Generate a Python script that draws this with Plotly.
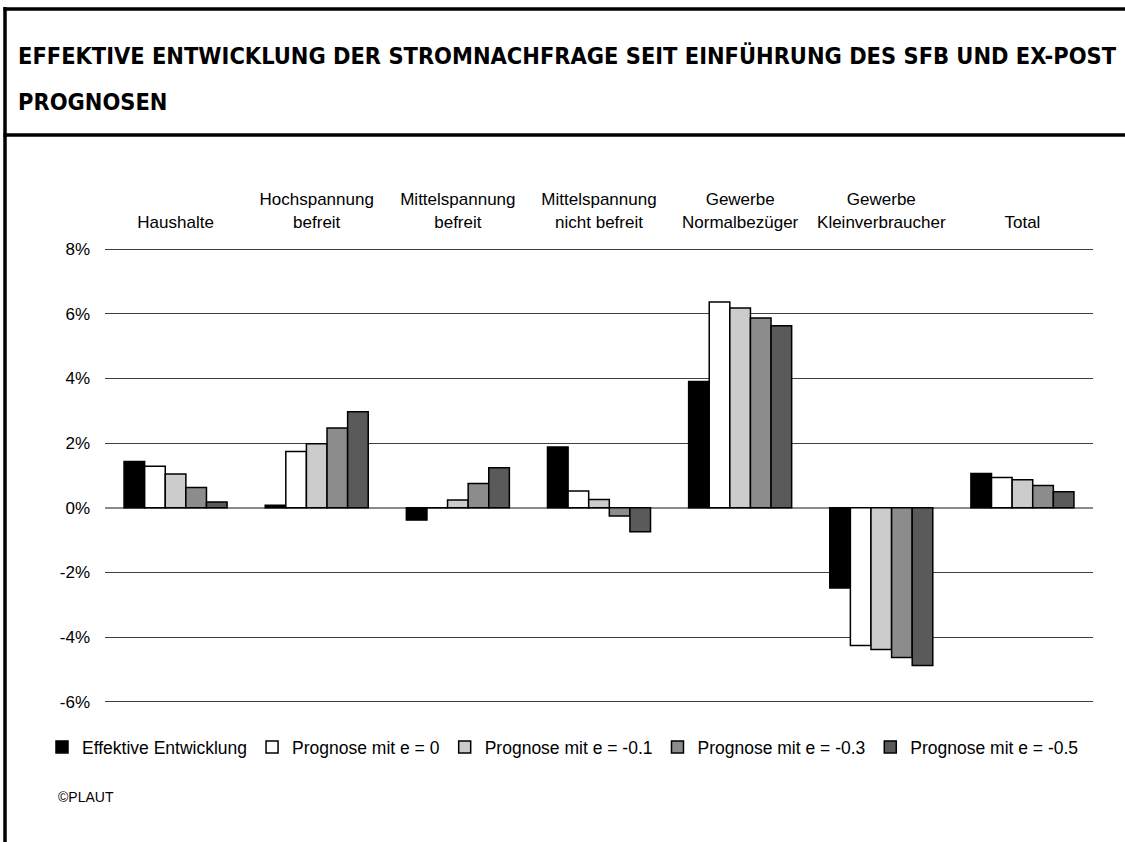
import plotly.graph_objects as go

categories = ["Haushalte", "Hochspannung<br>befreit", "Mittelspannung<br>befreit",
              "Mittelspannung<br>nicht befreit", "Gewerbe<br>Normalbezüger",
              "Gewerbe<br>Kleinverbraucher", "Total"]

effektiv = [1.43, 0.08, -0.38, 1.88, 3.91, -2.48, 1.06]
prog_e0 = [1.29, 1.74, 0.0, 0.52, 6.37, -4.26, 0.94]
prog_e01 = [1.05, 1.98, 0.24, 0.26, 6.18, -4.38, 0.87]
prog_e03 = [0.63, 2.47, 0.75, -0.25, 5.87, -4.63, 0.69]
prog_e05 = [0.18, 2.97, 1.24, -0.74, 5.63, -4.88, 0.50]

series_names = ["Effektive Entwicklung", "Prognose mit e = 0", "Prognose mit e = -0.1",
                "Prognose mit e = -0.3", "Prognose mit e = -0.5"]
series_values = [effektiv, prog_e0, prog_e01, prog_e03, prog_e05]
series_colors = ["#000000", "#FFFFFF", "#CCCCCC", "#8C8C8C", "#5A5A5A"]

y_ticks = [-6, -4, -2, 0, 2, 4, 6, 8]
y_ticktext = [f"{v}%" for v in y_ticks]

W, H = 1125, 842
L, R, T, B = 105, 32, 246, 137
PW, PH = W - L - R, H - T - B

def px_x(p):
    return (p - L) / PW

def px_y(p):
    return (H - B - p) / PH

fig = go.Figure()
for name, vals, col in zip(series_names, series_values, series_colors):
    fig.add_trace(go.Bar(
        x=categories, y=vals, name=name,
        marker=dict(color=col, line=dict(color="#000000", width=1.5)),
    ))

font_main = "Liberation Sans, Arial, sans-serif"

fig.update_layout(
    width=W, height=H,
    margin=dict(l=L, r=R, t=T, b=B),
    paper_bgcolor="white", plot_bgcolor="white",
    barmode="group", bargap=0.27, bargroupgap=0,
    font=dict(family=font_main, size=17, color="#000000"),
    showlegend=True,
    legend=dict(orientation="h", x=px_x(42), xanchor="left",
                y=px_y(747), yanchor="middle",
                font=dict(family=font_main, size=17.5, color="#000000"),
                itemwidth=30, traceorder="normal"),
    xaxis=dict(side="top", showgrid=False, showline=False, ticks="",
               ticklabelstandoff=14, tickfont=dict(size=17),
               range=[-0.5, 6.5]),
    yaxis=dict(range=[-6.1, 8.1], tickmode="array", tickvals=y_ticks,
               ticktext=y_ticktext,
               showgrid=True, gridcolor="#404040", gridwidth=1,
               zeroline=True, zerolinecolor="#8A8A8A", zerolinewidth=2,
               showline=False, ticks="", ticklabelstandoff=14,
               tickfont=dict(size=17)),
)

title_font = dict(family="DejaVu Sans Condensed, DejaVu Sans", size=23.4,
                  color="#000000", weight="bold")
fig.add_annotation(text="EFFEKTIVE ENTWICKLUNG DER STROMNACHFRAGE SEIT EINFÜHRUNG DES SFB UND EX-POST",
                   xref="paper", yref="paper", x=px_x(16), y=px_y(56),
                   xanchor="left", yanchor="middle", showarrow=False, font=title_font)
fig.add_annotation(text="PROGNOSEN",
                   xref="paper", yref="paper", x=px_x(16), y=px_y(102),
                   xanchor="left", yanchor="middle", showarrow=False, font=title_font)
fig.add_annotation(text="©PLAUT",
                   xref="paper", yref="paper", x=px_x(56), y=px_y(797),
                   xanchor="left", yanchor="middle", showarrow=False,
                   font=dict(family=font_main, size=14, color="#000000"))

border = dict(color="#000000", width=3.5)
fig.add_shape(type="line", xref="paper", yref="paper",
              x0=px_x(5), x1=px_x(5), y0=px_y(7), y1=px_y(850), line=border)
fig.add_shape(type="line", xref="paper", yref="paper",
              x0=px_x(3.5), x1=px_x(1130), y0=px_y(9), y1=px_y(9), line=border)
fig.add_shape(type="line", xref="paper", yref="paper",
              x0=px_x(3.5), x1=px_x(1130), y0=px_y(135), y1=px_y(135), line=border)

fig.write_html("out.html", config={"displayModeBar": False},
               post_script="document.body.style.margin='0';document.body.style.overflow='hidden';")
